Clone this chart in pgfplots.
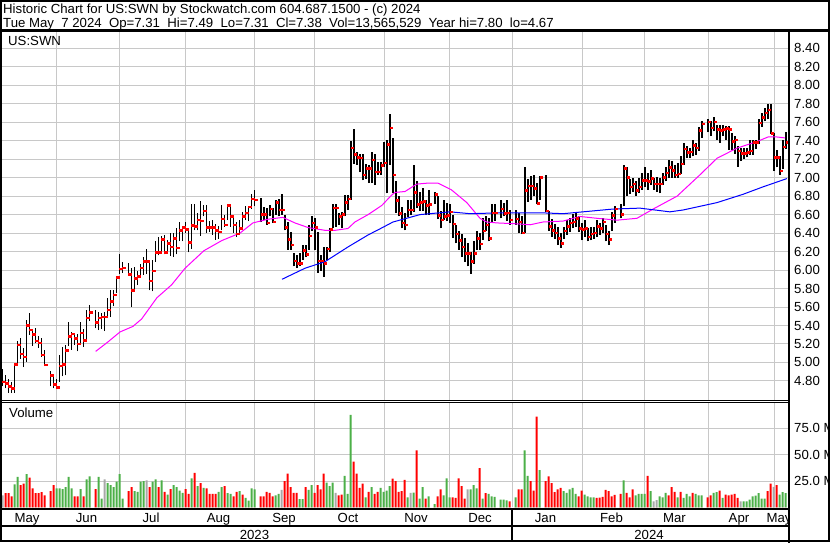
\documentclass[border=0pt]{standalone}
\usepackage{pgfplots}
\pgfplotsset{compat=1.18}
\usepackage{pgfplotstable}
\usepackage{fontspec}
\setmainfont{Liberation Sans}

\definecolor{gridc}{RGB}{200,200,200}
\definecolor{vgreen}{RGB}{76,176,72}
\definecolor{vgrey}{RGB}{168,168,168}
\definecolor{ma30}{RGB}{255,0,255}
\definecolor{ma90}{RGB}{0,0,255}

% day index (weekdays from 8 May 2023), high, low, close
\pgfplotstableread[row sep=\\]{
i hi lo cl \\
0 4.93 4.74 4.79 \\ 1 4.86 4.72 4.77 \\ 2 4.82 4.67 4.74 \\ 3 4.79 4.67 4.72 \\ 4 4.99 4.67 4.98 \\
5 5.23 4.99 5.19 \\ 6 5.26 5.04 5.09 \\ 7 5.16 4.95 5.06 \\ 8 5.46 5.01 5.40 \\ 9 5.53 5.30 5.35 \\
10 5.36 5.18 5.30 \\ 11 5.37 5.21 5.23 \\ 12 5.29 5.16 5.21 \\ 13 5.26 5.06 5.08 \\ 14 5.13 4.96 4.97 \\
16 4.91 4.74 4.86 \\ 17 4.88 4.72 4.76 \\ 18 4.82 4.72 4.73 \\ 19 5.08 4.79 4.96 \\
20 5.17 4.85 4.98 \\ 21 5.19 4.86 5.13 \\ 22 5.44 5.18 5.28 \\ 23 5.33 5.14 5.31 \\ 24 5.31 5.19 5.26 \\
25 5.31 5.12 5.20 \\ 26 5.44 5.20 5.32 \\ 27 5.36 5.17 5.24 \\ 28 5.57 5.22 5.48 \\ 29 5.62 5.45 5.54 \\
31 5.57 5.37 5.43 \\ 32 5.55 5.35 5.48 \\ 33 5.54 5.36 5.49 \\ 34 5.55 5.34 5.49 \\
35 5.70 5.49 5.57 \\ 36 5.78 5.49 5.66 \\ 37 5.78 5.61 5.73 \\ 38 5.94 5.75 5.92 \\ 39 6.17 5.96 6.01 \\
40 6.09 5.97 6.02 \\ 42 6.08 5.94 5.95 \\ 43 6.02 5.60 5.78 \\ 44 6.03 5.78 5.91 \\
45 5.99 5.84 5.93 \\ 46 6.07 5.93 6.02 \\ 47 6.14 5.95 6.09 \\ 48 6.23 5.96 6.09 \\ 49 6.11 5.78 5.88 \\
50 6.11 5.77 5.99 \\ 51 6.31 6.09 6.19 \\ 52 6.36 6.16 6.19 \\ 53 6.37 6.18 6.33 \\ 54 6.38 6.17 6.19 \\
55 6.33 6.20 6.29 \\ 56 6.40 6.15 6.25 \\ 57 6.40 6.14 6.34 \\ 58 6.45 6.17 6.24 \\ 59 6.52 6.31 6.43 \\
60 6.48 6.31 6.46 \\ 61 6.52 6.40 6.44 \\ 62 6.46 6.19 6.30 \\ 63 6.72 6.23 6.48 \\ 64 6.72 6.43 6.47 \\
65 6.62 6.43 6.54 \\ 66 6.75 6.37 6.53 \\ 67 6.70 6.58 6.64 \\ 68 6.70 6.40 6.46 \\ 69 6.53 6.41 6.46 \\
70 6.54 6.38 6.46 \\ 71 6.50 6.33 6.43 \\ 72 6.48 6.34 6.41 \\ 73 6.70 6.43 6.55 \\ 74 6.60 6.47 6.49 \\
75 6.72 6.54 6.70 \\ 76 6.71 6.47 6.58 \\ 77 6.60 6.40 6.49 \\ 78 6.52 6.36 6.39 \\ 79 6.54 6.40 6.45 \\
80 6.63 6.47 6.58 \\ 81 6.69 6.54 6.62 \\ 82 6.69 6.53 6.68 \\ 83 6.82 6.66 6.77 \\ 84 6.87 6.69 6.76 \\
86 6.78 6.52 6.60 \\ 87 6.68 6.54 6.60 \\ 88 6.67 6.49 6.51 \\ 89 6.70 6.58 6.66 \\
90 6.67 6.51 6.52 \\ 91 6.76 6.60 6.73 \\ 92 6.77 6.58 6.65 \\ 93 6.82 6.60 6.65 \\ 94 6.60 6.43 6.46 \\
95 6.52 6.22 6.33 \\ 96 6.41 6.22 6.27 \\ 97 6.18 6.04 6.10 \\ 98 6.16 6.02 6.07 \\ 99 6.18 6.04 6.07 \\
100 6.27 6.11 6.21 \\ 101 6.27 6.14 6.17 \\ 102 6.49 6.22 6.37 \\ 103 6.58 6.42 6.51 \\ 104 6.56 6.22 6.46 \\
105 6.41 5.97 6.10 \\ 106 6.16 5.99 6.10 \\ 107 6.25 5.93 6.07 \\ 108 6.25 6.11 6.23 \\ 109 6.45 6.20 6.44 \\
110 6.72 6.45 6.67 \\ 111 6.72 6.47 6.67 \\ 112 6.62 6.49 6.58 \\ 113 6.63 6.45 6.60 \\ 114 6.81 6.58 6.73 \\
115 6.81 6.65 6.77 \\ 116 7.40 6.76 7.32 \\ 117 7.53 7.15 7.25 \\ 118 7.28 7.14 7.22 \\ 119 7.26 7.06 7.21 \\
120 7.26 6.97 7.03 \\ 121 7.15 6.99 7.10 \\ 122 7.14 6.94 7.10 \\ 123 7.28 6.94 7.19 \\ 124 7.26 6.92 7.06 \\
125 7.17 7.03 7.06 \\ 126 7.17 7.03 7.13 \\ 127 7.39 7.12 7.16 \\ 128 7.41 6.83 7.36 \\ 129 7.69 7.14 7.54 \\
130 7.43 6.83 7.03 \\ 131 6.96 6.62 6.75 \\ 132 6.80 6.58 6.61 \\ 133 6.68 6.45 6.51 \\ 134 6.62 6.43 6.49 \\
135 6.76 6.57 6.65 \\ 136 6.76 6.60 6.65 \\ 137 7.14 6.63 6.84 \\ 138 6.96 6.67 6.71 \\ 139 6.85 6.64 6.73 \\
140 6.89 6.64 6.74 \\ 141 6.76 6.60 6.70 \\ 142 6.87 6.60 6.71 \\ 144 6.85 6.72 6.82 \\
145 6.80 6.55 6.59 \\ 146 6.64 6.45 6.54 \\ 147 6.76 6.54 6.58 \\ 148 6.73 6.53 6.59 \\ 149 6.71 6.51 6.63 \\
150 6.60 6.35 6.50 \\ 151 6.49 6.29 6.39 \\ 152 6.42 6.22 6.32 \\ 153 6.39 6.14 6.25 \\ 154 6.35 6.09 6.18 \\
155 6.29 6.04 6.18 \\ 156 6.20 5.96 6.09 \\ 157 6.31 6.07 6.18 \\ 158 6.42 6.22 6.34 \\ 159 6.40 6.22 6.28 \\
160 6.56 6.33 6.42 \\ 161 6.58 6.42 6.49 \\ 162 6.56 6.31 6.34 \\ 163 6.71 6.51 6.62 \\ 164 6.71 6.53 6.62 \\
166 6.76 6.56 6.66 \\ 167 6.73 6.58 6.61 \\ 168 6.76 6.53 6.62 \\ 169 6.65 6.49 6.54 \\
171 6.65 6.49 6.55 \\ 172 6.62 6.40 6.52 \\ 173 6.58 6.39 6.40 \\ 174 7.11 6.40 6.86 \\
175 6.98 6.74 6.91 \\ 176 7.02 6.76 6.91 \\ 177 7.03 6.80 6.88 \\ 178 6.94 6.71 6.72 \\ 179 7.02 6.76 7.00 \\
181 7.03 6.63 6.64 \\ 182 6.64 6.42 6.47 \\ 183 6.55 6.36 6.43 \\ 184 6.50 6.34 6.40 \\
185 6.47 6.27 6.34 \\ 186 6.40 6.24 6.29 \\ 187 6.47 6.34 6.42 \\ 188 6.54 6.38 6.47 \\ 189 6.56 6.41 6.51 \\
190 6.61 6.45 6.52 \\ 191 6.63 6.47 6.56 \\ 192 6.58 6.41 6.45 \\ 193 6.51 6.32 6.44 \\ 194 6.54 6.36 6.45 \\
195 6.45 6.31 6.36 \\ 196 6.47 6.32 6.39 \\ 197 6.47 6.34 6.40 \\ 198 6.54 6.36 6.47 \\ 199 6.51 6.38 6.45 \\
200 6.56 6.40 6.52 \\ 201 6.49 6.31 6.39 \\ 202 6.42 6.27 6.33 \\ 203 6.63 6.42 6.59 \\ 204 6.69 6.51 6.66 \\
206 6.72 6.56 6.60 \\ 207 7.14 6.69 7.10 \\ 208 7.12 6.80 7.00 \\ 209 6.98 6.82 6.90 \\
210 7.00 6.85 6.93 \\ 211 6.96 6.80 6.86 \\ 212 7.00 6.83 6.90 \\ 213 7.05 6.87 6.97 \\ 214 7.11 6.90 6.97 \\
215 7.05 6.87 6.96 \\ 216 7.08 6.92 6.99 \\ 217 7.00 6.87 6.93 \\ 218 7.01 6.85 6.93 \\ 219 7.00 6.83 6.93 \\
220 7.05 6.92 7.00 \\ 221 7.12 6.96 7.05 \\ 222 7.19 7.00 7.11 \\ 223 7.18 7.00 7.08 \\ 224 7.14 7.00 7.03 \\
225 7.16 7.00 7.04 \\ 226 7.23 7.04 7.15 \\ 227 7.38 7.14 7.31 \\ 228 7.34 7.21 7.27 \\ 229 7.32 7.21 7.28 \\
230 7.41 7.23 7.35 \\ 231 7.38 7.25 7.32 \\ 232 7.55 7.29 7.51 \\ 233 7.61 7.43 7.58 \\
235 7.63 7.49 7.60 \\ 236 7.61 7.45 7.54 \\ 237 7.66 7.50 7.60 \\ 238 7.57 7.41 7.52 \\ 239 7.57 7.38 7.51 \\
240 7.57 7.45 7.52 \\ 241 7.56 7.41 7.53 \\ 242 7.56 7.30 7.52 \\ 243 7.48 7.30 7.39 \\ 244 7.45 7.26 7.41 \\
245 7.34 7.12 7.29 \\ 246 7.32 7.18 7.26 \\ 247 7.32 7.20 7.26 \\ 248 7.32 7.22 7.27 \\ 249 7.41 7.25 7.29 \\
250 7.41 7.25 7.38 \\ 251 7.41 7.31 7.38 \\ 252 7.63 7.36 7.59 \\ 253 7.70 7.55 7.65 \\ 254 7.75 7.61 7.70 \\
255 7.80 7.63 7.73 \\ 256 7.80 7.47 7.48 \\ 257 7.48 7.07 7.22 \\ 258 7.30 7.11 7.22 \\ 259 7.23 7.03 7.07 \\
260 7.41 7.09 7.33 \\ 261 7.49 7.31 7.38 \\
}\ohlc

% day index, volume (millions), colour: 0 red, 1 green, 2 grey
\pgfplotstableread[row sep=\\]{
i v c \\
0 11.6 2 \\ 1 13.5 0 \\ 2 13.5 0 \\ 3 10.6 0 \\ 4 21.9 1 \\ 5 29.0 1 \\ 6 21.2 0 \\ 7 22.5 0 \\ 8 31.5 1 \\ 9 28.3 0 \\
10 18.0 0 \\ 11 13.5 0 \\ 12 13.5 0 \\ 13 14.5 0 \\ 14 11.6 0 \\ 16 15.4 0 \\ 17 21.2 0 \\ 18 18.0 1 \\ 19 18.0 1 \\
20 17.4 1 \\ 21 19.3 1 \\ 22 29.0 1 \\ 23 18.0 1 \\ 24 10.6 0 \\ 25 10.6 0 \\ 26 17.4 1 \\ 27 10.6 0 \\ 28 26.7 1 \\ 29 29.6 1 \\
31 17.4 0 \\ 32 29.0 1 \\ 33 8.4 1 \\ 34 26.7 2 \\ 35 23.2 1 \\ 36 21.2 1 \\ 37 19.3 1 \\ 38 24.4 1 \\ 39 31.5 1 \\
40 8.4 1 \\ 42 15.4 0 \\ 43 19.3 0 \\ 44 15.4 1 \\ 45 14.8 1 \\ 46 24.4 1 \\ 47 25.1 1 \\ 48 25.7 2 \\ 49 19.3 0 \\
50 24.4 1 \\ 51 26.7 1 \\ 52 19.3 0 \\ 53 25.7 1 \\ 54 14.8 0 \\ 55 12.2 1 \\ 56 17.4 0 \\ 57 21.2 1 \\ 58 19.3 1 \\ 59 16.1 1 \\
60 13.8 1 \\ 61 17.4 0 \\ 62 12.9 0 \\ 63 27.7 1 \\ 64 32.8 0 \\ 65 20.3 1 \\ 66 23.2 0 \\ 67 18.7 1 \\ 68 18.0 0 \\ 69 12.9 0 \\
70 12.9 0 \\ 71 12.9 0 \\ 72 14.8 1 \\ 73 19.3 1 \\ 74 20.3 0 \\ 75 13.5 1 \\ 76 12.9 1 \\ 77 10.6 0 \\ 78 14.8 0 \\ 79 15.4 1 \\
80 12.2 0 \\ 81 9.0 1 \\ 82 6.4 1 \\ 83 18.0 1 \\ 84 17.1 1 \\ 86 10.6 0 \\ 87 10.6 0 \\ 88 14.8 0 \\ 89 13.8 0 \\
90 10.6 0 \\ 91 11.6 1 \\ 92 12.9 1 \\ 93 16.7 2 \\ 94 25.1 0 \\ 95 32.2 0 \\ 96 19.3 0 \\ 97 13.8 0 \\ 98 13.8 0 \\ 99 8.0 1 \\
100 8.0 1 \\ 101 19.3 0 \\ 102 16.7 1 \\ 103 21.2 1 \\ 104 13.8 0 \\ 105 21.2 0 \\ 106 17.1 0 \\ 107 32.2 0 \\ 108 23.5 1 \\ 109 20.3 1 \\
110 23.5 1 \\ 111 13.8 2 \\ 112 11.6 0 \\ 113 12.2 0 \\ 114 29.9 1 \\ 115 12.9 1 \\ 116 87.8 1 \\ 117 43.4 0 \\ 118 32.2 0 \\ 119 18.7 0 \\
120 22.5 0 \\ 121 9.6 1 \\ 122 14.8 0 \\ 123 19.3 1 \\ 124 12.9 0 \\ 125 14.8 0 \\ 126 18.7 1 \\ 127 14.8 1 \\ 128 16.1 1 \\ 129 20.3 1 \\
130 27.3 0 \\ 131 25.1 0 \\ 132 14.8 0 \\ 133 15.4 0 \\ 134 26.1 0 \\ 135 9.6 1 \\ 136 13.8 2 \\ 137 14.0 1 \\ 138 54.0 0 \\ 139 8.4 1 \\
140 19.3 1 \\ 141 8.4 0 \\ 142 10.6 1 \\ 144 3.2 1 \\ 145 10.6 0 \\ 146 17.1 0 \\ 147 11.6 1 \\ 148 27.7 1 \\ 149 9.6 1 \\
150 9.6 0 \\ 151 9.0 0 \\ 152 27.7 0 \\ 153 20.3 0 \\ 154 8.4 0 \\ 155 17.1 2 \\ 156 17.1 1 \\ 157 21.2 1 \\ 158 18.0 1 \\ 159 37.3 0 \\
160 8.4 1 \\ 161 13.5 0 \\ 162 12.9 1 \\ 163 10.6 1 \\ 164 10.0 1 \\ 166 7.4 1 \\ 167 7.4 1 \\ 168 6.8 1 \\ 169 5.8 0 \\
171 9.6 1 \\ 172 17.1 0 \\ 173 17.1 0 \\ 174 54.0 1 \\ 175 29.9 1 \\ 176 25.1 0 \\ 177 16.1 0 \\ 178 86.2 0 \\ 179 35.4 1 \\
181 25.1 0 \\ 182 29.6 0 \\ 183 23.2 0 \\ 184 14.5 0 \\ 185 17.1 0 \\ 186 18.7 0 \\ 187 15.4 1 \\ 188 13.8 1 \\ 189 17.1 1 \\
190 18.7 1 \\ 191 12.9 1 \\ 192 10.6 0 \\ 193 16.1 0 \\ 194 12.2 1 \\ 195 10.6 1 \\ 196 9.6 1 \\ 197 9.6 1 \\ 198 9.0 0 \\ 199 9.3 0 \\
200 10.0 0 \\ 201 16.7 0 \\ 202 15.4 0 \\ 203 10.6 0 \\ 204 12.0 0 \\ 206 12.9 0 \\ 207 25.7 1 \\ 208 13.8 0 \\ 209 9.6 0 \\
210 17.1 0 \\ 211 11.6 1 \\ 212 12.9 1 \\ 213 12.9 1 \\ 214 13.0 1 \\ 215 29.9 0 \\ 216 15.4 1 \\ 217 5.8 2 \\ 218 7.1 2 \\ 219 10.6 1 \\
220 9.6 1 \\ 221 13.8 1 \\ 222 11.6 0 \\ 223 19.3 0 \\ 224 14.8 0 \\ 225 9.6 1 \\ 226 14.8 0 \\ 227 9.0 1 \\ 228 12.9 1 \\ 229 10.6 1 \\
230 13.8 0 \\ 231 12.9 1 \\ 232 11.6 1 \\ 233 11.6 1 \\ 235 9.6 0 \\ 236 11.6 0 \\ 237 13.8 1 \\ 238 14.5 1 \\ 239 16.1 0 \\
240 9.0 1 \\ 241 12.2 0 \\ 242 11.6 0 \\ 243 12.2 0 \\ 244 12.9 0 \\ 245 9.0 0 \\ 246 5.8 2 \\ 247 5.8 1 \\ 248 5.8 1 \\ 249 7.4 1 \\
250 10.6 1 \\ 251 11.3 1 \\ 252 13.5 1 \\ 253 8.4 1 \\ 254 8.4 1 \\ 255 15.4 0 \\ 256 22.5 0 \\ 257 19.6 2 \\ 258 21.2 0 \\ 259 12.2 1 \\
260 14.5 1 \\ 261 13.6 1 \\
}\vol

\newcommand{\lbl}{\fontsize{13.2bp}{15bp}\selectfont}

\pgfplotsset{
  chart/.style={
    scale only axis, width=787bp,
    xmin=-0.23, xmax=262.1,
    axis line style={draw=none}, major tick length=0pt,
    xtick={18.1,38.77,60.77,83.77,103.77,127.1,148.77,169.77,193.1,213.77,235.1,257.1},
    xticklabels={},
    grid=major, major grid style={gridc, line width=1bp},
    yticklabel pos=right,
    yticklabel style={anchor=west, xshift=5bp, inner sep=0pt, font=\lbl},
  }
}

\begin{document}
\lbl
\begin{tikzpicture}[x=1bp,y=1bp]
\useasboundingbox (0,0) rectangle (830,543);
\fill[white] (0,0) rectangle (830,543);

% price panel
\begin{axis}[chart, at={(2bp,142.5bp)}, anchor=south west, height=369.5bp,
  ymin=4.5883, ymax=8.5872,
  ytick={4.8,5,5.2,5.4,5.6,5.8,6,6.2,6.4,6.6,6.8,7,7.2,7.4,7.6,7.8,8,8.2,8.4},
  yticklabel style={/pgf/number format/fixed, /pgf/number format/fixed zerofill,
    /pgf/number format/precision=2, /pgf/number format/assume math mode=true}]
\addplot[draw=none, no markers, error bars/.cd, y dir=plus, y explicit, error mark=none,
  error bar style={draw=black, line width=1.6bp}]
  table[x=i, y=lo, y error plus expr=\thisrow{hi}-\thisrow{lo}] {\ohlc};
\addplot[only marks, mark=-, mark size=1.7bp,
  mark options={draw=red, line width=2.5bp, xshift=1.5bp}]
  table[x=i, y=cl] {\ohlc};
% 30-day average
\addplot[ma30, line width=1bp] coordinates {
(31.0,5.12) (35,5.22) (39.1,5.33) (43.4,5.39) (46.3,5.47) (51.4,5.70) (56.3,5.84)
(60.8,6.02) (67.1,6.21) (73.1,6.32) (79.1,6.40) (83.4,6.51) (88.4,6.55) (93.4,6.57)
(97.4,6.51) (101.8,6.46) (107.4,6.43) (110.8,6.43) (115.1,6.45) (117.4,6.52)
(121.8,6.60) (126.4,6.70) (129.6,6.81) (130.8,6.84) (134.1,6.85) (138,6.93)
(141.4,6.94) (145.1,6.94) (149.5,6.87) (154.7,6.73) (159.1,6.56) (161.3,6.52)
(164.8,6.51) (171.4,6.50) (175.8,6.49) (180.1,6.52) (186.8,6.53) (192.4,6.58)
(198.1,6.56) (204.8,6.54) (211.4,6.56) (216.8,6.66) (224.8,6.80) (232.4,7.03)
(238.1,7.21) (244.8,7.32) (251.4,7.39) (255.1,7.44) (258.1,7.44) (260.8,7.43)
};
% 90-day average
\addplot[ma90, line width=1bp] coordinates {
(93.1,5.90) (100.8,6.02) (107.4,6.09) (115.1,6.25) (121.8,6.38) (126,6.45)
(130.1,6.52) (139.1,6.60) (149.1,6.63) (155.8,6.61) (166.8,6.62) (179.1,6.62)
(186.8,6.61) (203.4,6.66) (212.4,6.67) (222.4,6.63) (226.8,6.65) (238.1,6.73)
(246.8,6.82) (253.4,6.90) (261.4,6.99)
};
\end{axis}

% volume panel
\begin{axis}[chart, at={(2bp,35.5bp)}, anchor=south west, height=104.5bp,
  ymin=0, ymax=99, ytick={25,50,75}, yticklabels={25.0 M,50.0 M,75.0 M}]
\addplot[ybar, bar width=2bp, bar shift=0pt, fill=red, draw=none]
  table[x=i, y expr={\thisrow{c}==0 ? \thisrow{v} : 0}] {\vol};
\addplot[ybar, bar width=2bp, bar shift=0pt, fill=vgreen, draw=none]
  table[x=i, y expr={\thisrow{c}==1 ? \thisrow{v} : 0}] {\vol};
\addplot[ybar, bar width=2bp, bar shift=0pt, fill=vgrey, draw=none]
  table[x=i, y expr={\thisrow{c}==2 ? \thisrow{v} : 0}] {\vol};
\end{axis}

% header text
\node[anchor=base west, inner sep=0pt] at (3,529) {Historic Chart for US:SWN by Stockwatch.com 604.687.1500 - (c) 2024};
\node[anchor=base west, inner sep=0pt] at (3,515.3) {Tue May~~7 2024~~Op=7.31~~Hi=7.49~~Lo=7.31~~Cl=7.38~~Vol=13,565,529~~Year hi=7.80~~lo=4.67};
\node[anchor=base west, inner sep=0pt] at (8,497.3) {US:SWN};
\node[anchor=base west, inner sep=0pt] at (9,125.3) {Volume};

% month and year labels
\begin{scope}
\clip (2,17) rectangle (788,33);
\foreach \cx/\m in {27/May,86.5/Jun,151/Jul,218.5/Aug,284/Sep,348/Oct,416/Nov,480/Dec,545.5/Jan,611.5/Feb,674.5/Mar,739/Apr,779/May}
  \node[anchor=base, inner sep=0pt] at (\cx,20.3) {\m};
\end{scope}
\node[anchor=base, inner sep=0pt] at (254.5,3.7) {2023};
\node[anchor=base, inner sep=0pt] at (649,3.7) {2024};

% frame lines
\draw[line width=2bp] (1,1.5) rectangle (828.5,541.5);
\draw[line width=2.5bp] (0,512.5) -- (830,512.5);
\draw[line width=2bp] (789,512.5) -- (789,0);
\draw[line width=1bp] (0,142.3) -- (789,142.3);
\draw[line width=1bp] (0,140.3) -- (789,140.3);
\draw[line width=2bp] (0,34) -- (789,34);
\draw[line width=2bp] (0,16.5) -- (789,16.5);
\draw[line width=2bp] (512,34) -- (512,1.5);
\end{tikzpicture}
\end{document}
